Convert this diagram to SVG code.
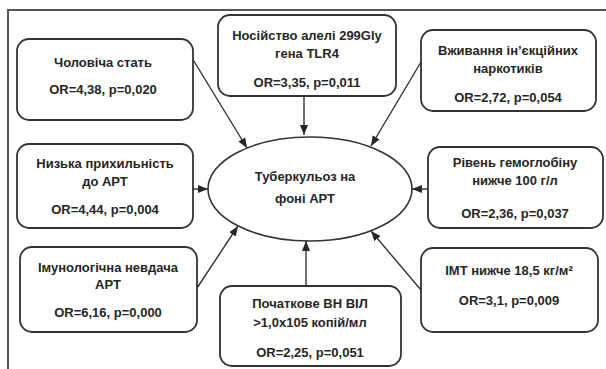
<svg xmlns="http://www.w3.org/2000/svg" width="606" height="369" viewBox="0 0 606 369">
<style>
.box{fill:#fff;stroke:#333;stroke-width:1.8}
.t{font-family:"Liberation Sans",Arial,sans-serif;font-weight:bold;font-size:13px;fill:#262626;text-anchor:middle}
.c{stroke:#333;stroke-width:1.4;fill:none;marker-end:url(#ah)}
.frame{stroke:#555;stroke-width:2;fill:none}
</style>
<defs>
<marker id="ah" markerUnits="userSpaceOnUse" markerWidth="10" markerHeight="10" viewBox="0 0 10 10" refX="10" refY="5" orient="auto">
<path d="M0,1 L10,5 L0,9 Z" fill="#262626"/>
</marker>
</defs>
<rect width="606" height="369" fill="#fff"/>
<path class="frame" d="M8,369 V10 H606"/>

<g id="connectors">
<line class="c" x1="192" y1="58" x2="247" y2="148"/>
<line class="c" x1="304" y1="96" x2="304" y2="135"/>
<line class="c" x1="421" y1="62" x2="371" y2="146"/>
<line class="c" x1="193" y1="189" x2="208" y2="189"/>
<line class="c" x1="428" y1="189" x2="412" y2="189"/>
<line class="c" x1="197" y1="288" x2="238" y2="226"/>
<line class="c" x1="306" y1="286" x2="306" y2="241"/>
<line class="c" x1="421" y1="290" x2="371" y2="231"/>
</g>

<g id="center">
<ellipse cx="310" cy="189" rx="102" ry="52" fill="#fff" stroke="#333" stroke-width="1.6"/>
<text class="t" x="305" y="181">Туберкульоз на</text>
<text class="t" x="305" y="203">фоні АРТ</text>
</g>

<g id="n1">
<rect class="box" x="17" y="39" width="176" height="81" rx="12"/>
<text class="t" x="103" y="67">Чоловіча стать</text>
<text class="t" x="103" y="94">OR=4,38, p=0,020</text>
</g>

<g id="n2">
<rect class="box" x="218" y="15" width="178" height="81" rx="12"/>
<text class="t" x="307" y="40">Носійство алелі 299Gly</text>
<text class="t" x="307" y="58">гена TLR4</text>
<text class="t" x="307" y="87">OR=3,35, p=0,011</text>
</g>

<g id="n3">
<rect class="box" x="421" y="30" width="175" height="81" rx="12"/>
<text class="t" x="508" y="55">Вживання ін’єкційних</text>
<text class="t" x="508" y="73">наркотиків</text>
<text class="t" x="508" y="102">OR=2,72, p=0,054</text>
</g>

<g id="n4">
<rect class="box" x="17" y="144" width="176" height="84" rx="12"/>
<text class="t" x="105" y="168">Низька прихильність</text>
<text class="t" x="105" y="186">до АРТ</text>
<text class="t" x="105" y="214">OR=4,44, p=0,004</text>
</g>

<g id="n5">
<rect class="box" x="428" y="147" width="175" height="81" rx="12"/>
<text class="t" x="515" y="167">Рівень гемоглобіну</text>
<text class="t" x="515" y="185">нижче 100 г/л</text>
<text class="t" x="515" y="218">OR=2,36, p=0,037</text>
</g>

<g id="n6">
<rect class="box" x="20" y="247" width="177" height="85" rx="12"/>
<text class="t" x="108" y="272">Імунологічна невдача</text>
<text class="t" x="108" y="289">АРТ</text>
<text class="t" x="108" y="317">OR=6,16, p=0,000</text>
</g>

<g id="n7">
<rect class="box" x="220" y="286" width="181" height="80" rx="12"/>
<text class="t" x="310" y="308">Початкове ВН ВІЛ</text>
<text class="t" x="310" y="327">&gt;1,0x105 копій/мл</text>
<text class="t" x="310" y="357">OR=2,25, p=0,051</text>
</g>

<g id="n8">
<rect class="box" x="421" y="248" width="177" height="84" rx="12"/>
<text class="t" x="509" y="275">ІМТ нижче 18,5 кг/м²</text>
<text class="t" x="509" y="305">OR=3,1, p=0,009</text>
</g>
</svg>
